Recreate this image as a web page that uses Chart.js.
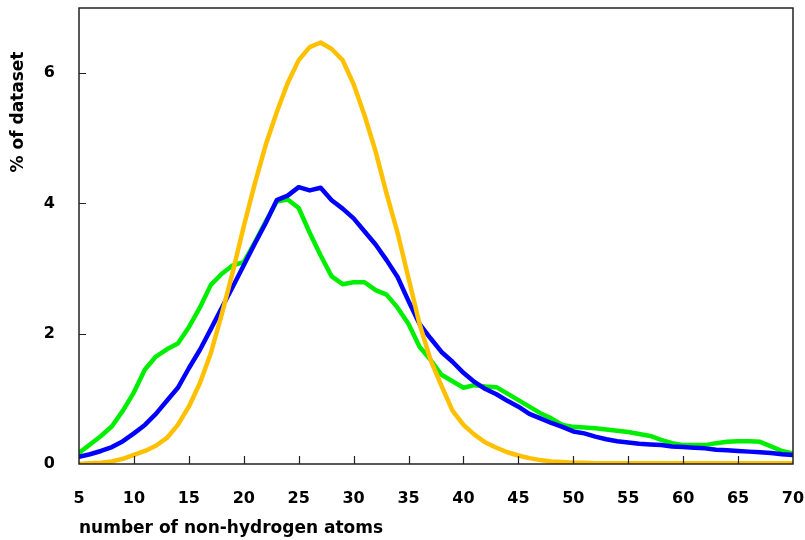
<!DOCTYPE html>
<html>
<head>
<meta charset="utf-8">
<script src="https://cdn.jsdelivr.net/npm/chart.js@4.4.1/dist/chart.umd.min.js"></script>
<style>
    body { margin: 0; background: #fff; }
    canvas { display: block; }
</style>
</head>
<body>
<canvas id="atomChart" width="805" height="540"></canvas>
<script>
// number of non-hydrogen atoms (x)
const atomCounts = [5, 6, 7, 8, 9, 10, 11, 12, 13, 14, 15, 16, 17, 18, 19, 20, 21, 22, 23, 24, 25, 26, 27, 28, 29, 30,
    31, 32, 33, 34, 35, 36, 37, 38, 39, 40, 41, 42, 43, 44, 45, 46, 47, 48, 49, 50, 51, 52, 53, 54, 55, 56, 57, 58, 59, 60,
    61, 62, 63, 64, 65, 66, 67, 68, 69, 70];

// % of dataset, one list per curve
const yellowSeries = [0.00, 0.01, 0.02, 0.04, 0.08, 0.14, 0.20, 0.28, 0.40, 0.60, 0.88, 1.24, 1.70, 2.30, 2.95, 3.65,
    4.30, 4.90, 5.40, 5.85, 6.20, 6.40, 6.47, 6.37, 6.20, 5.83, 5.35, 4.80, 4.15, 3.55, 2.85, 2.15, 1.60, 1.20, 0.82,
    0.60, 0.45, 0.33, 0.25, 0.18, 0.13, 0.09, 0.06, 0.04, 0.03, 0.02, 0.02, 0.01, 0.01, 0.01, 0.01, 0.01, 0.01, 0.01,
    0.01, 0.01, 0.01, 0.01, 0.01, 0.01, 0.01, 0.01, 0.01, 0.01, 0.01, 0.01];

const blueSeries = [0.11, 0.15, 0.20, 0.26, 0.35, 0.47, 0.60, 0.77, 0.97, 1.17, 1.47, 1.75, 2.07, 2.40, 2.72, 3.05,
    3.38, 3.70, 4.05, 4.12, 4.25, 4.20, 4.24, 4.05, 3.92, 3.77, 3.57, 3.37, 3.13, 2.87, 2.50, 2.15, 1.93, 1.72, 1.57,
    1.40, 1.26, 1.15, 1.07, 0.97, 0.88, 0.77, 0.70, 0.63, 0.57, 0.50, 0.47, 0.42, 0.38, 0.35, 0.33, 0.31, 0.30, 0.29,
    0.27, 0.26, 0.25, 0.24, 0.22, 0.21, 0.20, 0.19, 0.18, 0.17, 0.15, 0.14];

const greenSeries = [0.17, 0.30, 0.43, 0.58, 0.82, 1.10, 1.45, 1.65, 1.76, 1.85, 2.10, 2.40, 2.75, 2.92, 3.05, 3.10,
    3.40, 3.72, 4.03, 4.06, 3.93, 3.55, 3.20, 2.88, 2.76, 2.79, 2.79, 2.67, 2.60, 2.40, 2.15, 1.80, 1.60, 1.37, 1.27,
    1.17, 1.21, 1.19, 1.18, 1.08, 0.98, 0.88, 0.78, 0.70, 0.60, 0.57, 0.56, 0.55, 0.53, 0.51, 0.49, 0.46, 0.43, 0.37,
    0.32, 0.29, 0.29, 0.29, 0.32, 0.34, 0.35, 0.35, 0.34, 0.27, 0.20, 0.16];

const yTickLabels = [0, 2, 4, 6];
const xTitle = 'number of non-hydrogen atoms';
const yTitle = '% of dataset';

document.addEventListener('DOMContentLoaded', () => {
    const FONT = '"DejaVu Sans", Verdana, sans-serif';

    const toPoints = series => atomCounts.map((x, i) => ({ x: x, y: series[i] }));

    const lineStyle = color => ({
        borderColor: color,
        borderWidth: 4.5,
        pointRadius: 0,
        tension: 0,
        fill: false,
        borderJoinStyle: 'round',
        borderCapStyle: 'round'
    });

    // no extra room for the edge labels, the plot box is fixed
    const noEdgePadding = s => {
        s.paddingLeft = 0;
        s.paddingRight = 0;
        s.paddingTop = 0;
        s.paddingBottom = 0;
    };

    // Frame, inward tick marks and the axis titles
    const framePlugin = {
        id: 'frame',
        afterDraw(chart) {
            const { ctx, chartArea: a, scales } = chart;
            ctx.save();
            ctx.strokeStyle = '#222';
            ctx.lineWidth = 1.5;
            ctx.strokeRect(a.left, a.top, a.right - a.left, a.bottom - a.top);

            ctx.lineWidth = 1.2;
            ctx.beginPath();
            scales.x.ticks.forEach(t => {
                const px = Math.round(scales.x.getPixelForValue(t.value)) + 0.5;
                if (px <= a.left + 1 || px >= a.right - 1) return;
                ctx.moveTo(px, a.bottom);
                ctx.lineTo(px, a.bottom - 8);
            });
            scales.y.ticks.forEach(t => {
                const py = Math.round(scales.y.getPixelForValue(t.value)) + 0.5;
                if (py >= a.bottom - 1) return;
                ctx.moveTo(a.left, py);
                ctx.lineTo(a.left + 7, py);
            });
            ctx.stroke();

            ctx.fillStyle = '#000';
            ctx.font = 'bold 17px ' + FONT;
            ctx.textBaseline = 'middle';
            ctx.textAlign = 'left';
            ctx.fillText(xTitle, a.left, 529);

            ctx.translate(19, 112);
            ctx.rotate(-Math.PI / 2);
            ctx.textAlign = 'center';
            ctx.fillText(yTitle, 0, 0);
            ctx.restore();
        }
    };

    new Chart(document.getElementById('atomChart'), {
        type: 'line',
        data: {
            datasets: [
                { label: 'yellow', data: toPoints(yellowSeries), ...lineStyle('#ffc000') },
                { label: 'blue', data: toPoints(blueSeries), ...lineStyle('#0000ff') },
                { label: 'green', data: toPoints(greenSeries), ...lineStyle('#00ee00') }
            ]
        },
        options: {
            responsive: false,
            animation: false,
            layout: { padding: { top: 8, right: 12, left: 0, bottom: 0 } },
            plugins: {
                legend: { display: false },
                tooltip: { enabled: false }
            },
            scales: {
                x: {
                    type: 'linear',
                    min: 5,
                    max: 70,
                    grid: { display: false },
                    border: { display: false },
                    ticks: {
                        stepSize: 5,
                        padding: 17,
                        color: '#000',
                        font: { size: 16, weight: 'bold', family: FONT }
                    },
                    afterFit: s => { s.height = 76; noEdgePadding(s); }
                },
                y: {
                    min: 0,
                    max: 7,
                    grid: { display: false },
                    border: { display: false },
                    afterBuildTicks: s => {
                        s.ticks = yTickLabels.map(v => ({ value: v }));
                    },
                    ticks: {
                        padding: 16,
                        color: '#000',
                        font: { size: 16, weight: 'bold', family: FONT }
                    },
                    afterFit: s => { s.width = 79; noEdgePadding(s); }
                }
            }
        },
        plugins: [framePlugin]
    });
});
</script>
</body>
</html>
